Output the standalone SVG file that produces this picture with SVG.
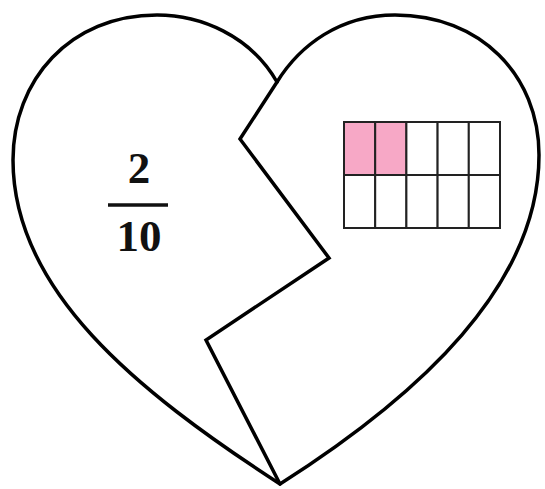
<svg xmlns="http://www.w3.org/2000/svg" width="545" height="489" viewBox="0 0 545 489">
<style>
.outline{fill:none;stroke:#000;stroke-width:3.5;stroke-linejoin:miter;stroke-linecap:round}
.cell{fill:#fff;stroke:#222;stroke-width:2}
.pink{fill:#f7a8c6}
.num{font-family:"Liberation Serif","DejaVu Serif",serif;font-weight:bold;font-size:45px;fill:#111;text-anchor:middle}
</style>
<rect width="545" height="489" fill="#fff"/>
<g id="heart">
<path class="outline" d="M277 82 C250 35 200 15 157 15 C70 15 13 80 13 160 C13 290 135 390 280 484 C420 395 539 285 539 155 C539 75 480 15 395 15 C340 15 300 45 277 82"/>
</g>
<g id="crack">
<path class="outline" d="M277 82 L240 139 L329 258 L206 340 L280 484"/>
</g>
<g id="fraction">
<text class="num" x="139" y="183">2</text>
<line x1="108" y1="205" x2="168" y2="205" stroke="#111" stroke-width="3.5"/>
<text class="num" x="139" y="251">10</text>
</g>
<g id="grid">
<rect class="cell pink" x="344" y="122" width="31.2" height="53"/>
<rect class="cell pink" x="375.2" y="122" width="31.2" height="53"/>
<rect class="cell" x="406.4" y="122" width="31.2" height="53"/>
<rect class="cell" x="437.6" y="122" width="31.2" height="53"/>
<rect class="cell" x="468.8" y="122" width="31.2" height="53"/>
<rect class="cell" x="344" y="175" width="31.2" height="53"/>
<rect class="cell" x="375.2" y="175" width="31.2" height="53"/>
<rect class="cell" x="406.4" y="175" width="31.2" height="53"/>
<rect class="cell" x="437.6" y="175" width="31.2" height="53"/>
<rect class="cell" x="468.8" y="175" width="31.2" height="53"/>
</g>
</svg>
